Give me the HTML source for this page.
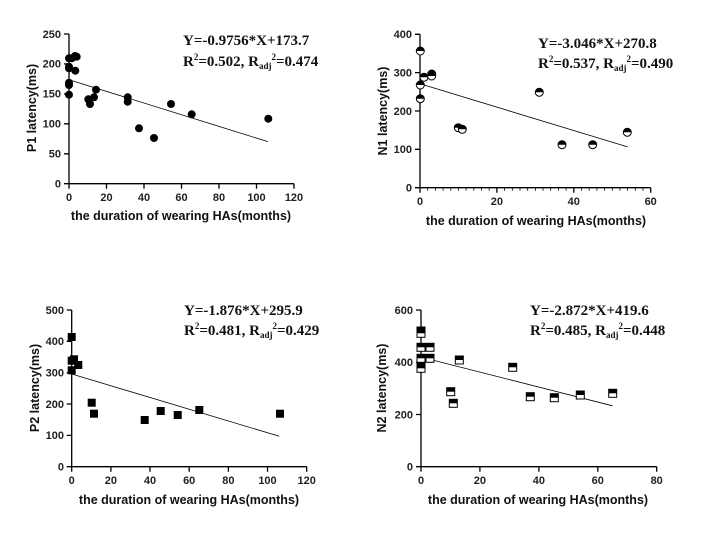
<!DOCTYPE html>
<html><head><meta charset="utf-8"><style>
html,body{margin:0;padding:0;background:#fff;}
svg{display:block;}
.t{font-family:"Liberation Sans",sans-serif;font-weight:bold;font-size:11px;fill:#222;}
.ti{font-family:"Liberation Sans",sans-serif;font-weight:bold;font-size:12.5px;fill:#111;}
.an{font-family:"Liberation Serif",serif;font-weight:bold;font-size:15px;fill:#111;}
.an tspan.s{font-size:9px;}
</style></head><body>
<svg width="709" height="533" viewBox="0 0 709 533" xmlns="http://www.w3.org/2000/svg">
<defs>
<g id="hc"><circle r="4" fill="#fff" stroke="#000" stroke-width="1"/><path d="M-4,0 A4,4 0 0 1 4,0 Z" fill="#000"/></g>
<g id="hs"><rect x="-4" y="-4" width="8" height="8" fill="#fff" stroke="#000" stroke-width="1"/><rect x="-4" y="-4" width="8" height="4" fill="#000"/></g>
</defs>
<g stroke="#000" stroke-width="1.3" fill="none">
<path d="M69,34V183.7H294"/>
<path d="M64,183.7H69M64,153.8H69M64,123.8H69M64,93.9H69M64,63.9H69M64,34H69"/>
<path d="M69,183.7v5M106.5,183.7v5M144,183.7v5M181.5,183.7v5M219,183.7v5M256.5,183.7v5M294,183.7v5"/>
<path d="M420,34.3V187.7H650.7"/>
<path d="M415,187.7H420M415,149.3H420M415,111H420M415,72.6H420M415,34.3H420"/>
<path d="M420,187.7v5M496.9,187.7v5M573.8,187.7v5M650.7,187.7v5"/>
<path d="M71.7,310V466.7H306.7"/>
<path d="M66.7,466.7H71.7M66.7,435.4H71.7M66.7,404H71.7M66.7,372.7H71.7M66.7,341.3H71.7M66.7,310H71.7"/>
<path d="M71.7,466.7v5M110.9,466.7v5M150,466.7v5M189.2,466.7v5M228.4,466.7v5M267.5,466.7v5M306.7,466.7v5"/>
<path d="M421,310V466.7H656.7"/>
<path d="M416,466.7H421M416,414.5H421M416,362.3H421M416,310H421"/>
<path d="M421,466.7v5M479.9,466.7v5M538.9,466.7v5M597.8,466.7v5M656.7,466.7v5"/>
</g>
<g stroke="#000" stroke-width="0.8">
<path d="M427.7,187.7v3M435.4,187.7v3M443.1,187.7v3M450.8,187.7v3M458.5,187.7v3M466.1,187.7v3M473.8,187.7v3M481.5,187.7v3M489.2,187.7v3M504.6,187.7v3M512.3,187.7v3M520,187.7v3M527.7,187.7v3M535.4,187.7v3M543,187.7v3M550.7,187.7v3M558.4,187.7v3M566.1,187.7v3M581.5,187.7v3M589.2,187.7v3M596.9,187.7v3M604.6,187.7v3M612.3,187.7v3M619.9,187.7v3M627.6,187.7v3M635.3,187.7v3M643,187.7v3"/>
<line x1="69" y1="79.7" x2="267.8" y2="141.6"/>
<line x1="420" y1="83.8" x2="627.6" y2="146.9"/>
<line x1="71.7" y1="374" x2="279.3" y2="436.3"/>
<line x1="421" y1="357.1" x2="612.5" y2="405.8"/>
</g>
<g fill="#000">
<circle cx="69" cy="58.3" r="4"/><circle cx="71.7" cy="58.3" r="4"/><circle cx="75" cy="56" r="4"/><circle cx="76.7" cy="56.7" r="4"/><circle cx="69" cy="66.7" r="4"/><circle cx="69" cy="68.3" r="4"/><circle cx="75.3" cy="70.7" r="4"/><circle cx="69" cy="82.7" r="4"/><circle cx="69" cy="85" r="4"/><circle cx="69" cy="94.7" r="4"/><circle cx="88.3" cy="99.3" r="4"/><circle cx="90" cy="104" r="4"/><circle cx="94" cy="97.3" r="4"/><circle cx="96" cy="89.7" r="4"/><circle cx="127.7" cy="97.3" r="4"/><circle cx="127.7" cy="101.7" r="4"/><circle cx="139" cy="128.3" r="4"/><circle cx="154" cy="138" r="4"/><circle cx="171" cy="104" r="4"/><circle cx="191.7" cy="114.3" r="4"/><circle cx="268.3" cy="118.7" r="4"/>
</g>
<use href="#hc" x="420.3" y="51"/><use href="#hc" x="424" y="77.3"/><use href="#hc" x="431.7" y="74"/><use href="#hc" x="431.7" y="76"/><use href="#hc" x="420.3" y="85"/><use href="#hc" x="420.3" y="98.7"/><use href="#hc" x="458.3" y="127.7"/><use href="#hc" x="462.3" y="129.3"/><use href="#hc" x="539.3" y="92.3"/><use href="#hc" x="562" y="144.7"/><use href="#hc" x="592.7" y="144.7"/><use href="#hc" x="627.3" y="132.3"/>
<g fill="#000">
<rect x="67.7" y="333" width="8" height="8"/><rect x="67.7" y="356.7" width="8" height="8"/><rect x="70" y="355.3" width="8" height="8"/><rect x="74.3" y="361" width="8" height="8"/><rect x="67.7" y="366.3" width="8" height="8"/><rect x="87.7" y="398.7" width="8" height="8"/><rect x="90" y="409.7" width="8" height="8"/><rect x="140.7" y="416" width="8" height="8"/><rect x="156.7" y="407" width="8" height="8"/><rect x="173.7" y="411" width="8" height="8"/><rect x="195.3" y="406" width="8" height="8"/><rect x="276" y="409.7" width="8" height="8"/>
</g>
<use href="#hs" x="421" y="331"/><use href="#hs" x="421" y="333.3"/><use href="#hs" x="421" y="347.3"/><use href="#hs" x="430" y="347.3"/><use href="#hs" x="421" y="358.3"/><use href="#hs" x="430" y="358.3"/><use href="#hs" x="421" y="366.7"/><use href="#hs" x="421" y="368.3"/><use href="#hs" x="450.7" y="391.7"/><use href="#hs" x="453.3" y="403.3"/><use href="#hs" x="459.3" y="360"/><use href="#hs" x="512.7" y="367.3"/><use href="#hs" x="530.3" y="396.7"/><use href="#hs" x="554.3" y="397.7"/><use href="#hs" x="580.3" y="395"/><use href="#hs" x="612.7" y="393.3"/>
<g class="t" text-anchor="end">
<text x="61" y="187.5">0</text><text x="61" y="157.6">50</text><text x="61" y="127.6">100</text><text x="61" y="97.7">150</text><text x="61" y="67.7">200</text><text x="61" y="37.8">250</text>
<text x="412" y="191.5">0</text><text x="412" y="153.1">100</text><text x="412" y="114.8">200</text><text x="412" y="76.4">300</text><text x="412" y="38.1">400</text>
<text x="64" y="470.5">0</text><text x="64" y="439.2">100</text><text x="64" y="407.8">200</text><text x="64" y="376.5">300</text><text x="64" y="345.1">400</text><text x="64" y="313.8">500</text>
<text x="413" y="470.5">0</text><text x="413" y="418.3">200</text><text x="413" y="366.1">400</text><text x="413" y="313.8">600</text>
</g>
<g class="t" text-anchor="middle">
<text x="69" y="201">0</text><text x="106.5" y="201">20</text><text x="144" y="201">40</text><text x="181.5" y="201">60</text><text x="219" y="201">80</text><text x="256.5" y="201">100</text><text x="294" y="201">120</text>
<text x="420" y="205">0</text><text x="496.9" y="205">20</text><text x="573.8" y="205">40</text><text x="650.7" y="205">60</text>
<text x="71.7" y="484">0</text><text x="110.9" y="484">20</text><text x="150" y="484">40</text><text x="189.2" y="484">60</text><text x="228.4" y="484">80</text><text x="267.5" y="484">100</text><text x="306.7" y="484">120</text>
<text x="421" y="484">0</text><text x="479.9" y="484">20</text><text x="538.9" y="484">40</text><text x="597.8" y="484">60</text><text x="656.7" y="484">80</text>
</g>
<g class="ti" text-anchor="middle">
<text x="181" y="220">the duration of wearing HAs(months)</text>
<text x="536" y="225">the duration of wearing HAs(months)</text>
<text x="189" y="504">the duration of wearing HAs(months)</text>
<text x="538" y="504">the duration of wearing HAs(months)</text>
<text transform="translate(36,108) rotate(-90)">P1 latency(ms)</text>
<text transform="translate(387,111) rotate(-90)">N1 latency(ms)</text>
<text transform="translate(39,388) rotate(-90)">P2 latency(ms)</text>
<text transform="translate(386,388) rotate(-90)">N2 latency(ms)</text>
</g>
<text class="an" x="183" y="45">Y=-0.9756*X+173.7</text>
<text class="an" x="183" y="66">R<tspan class="s" dy="-6">2</tspan><tspan dy="6">=0.502, R</tspan><tspan class="s" dy="3">adj</tspan><tspan class="s" dy="-9">2</tspan><tspan dy="6">=0.474</tspan></text>
<text class="an" x="538" y="48">Y=-3.046*X+270.8</text>
<text class="an" x="538" y="68">R<tspan class="s" dy="-6">2</tspan><tspan dy="6">=0.537, R</tspan><tspan class="s" dy="3">adj</tspan><tspan class="s" dy="-9">2</tspan><tspan dy="6">=0.490</tspan></text>
<text class="an" x="184" y="315">Y=-1.876*X+295.9</text>
<text class="an" x="184" y="335">R<tspan class="s" dy="-6">2</tspan><tspan dy="6">=0.481, R</tspan><tspan class="s" dy="3">adj</tspan><tspan class="s" dy="-9">2</tspan><tspan dy="6">=0.429</tspan></text>
<text class="an" x="530" y="315">Y=-2.872*X+419.6</text>
<text class="an" x="530" y="335">R<tspan class="s" dy="-6">2</tspan><tspan dy="6">=0.485, R</tspan><tspan class="s" dy="3">adj</tspan><tspan class="s" dy="-9">2</tspan><tspan dy="6">=0.448</tspan></text>
</svg>
</body></html>
